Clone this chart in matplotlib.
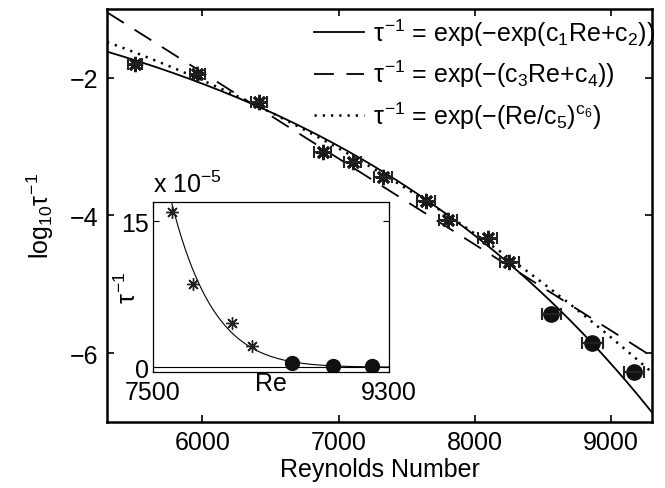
import numpy as np
import matplotlib
matplotlib.use('Agg')
import matplotlib.pyplot as plt

plt.rcParams['font.family'] = ['Liberation Sans', 'DejaVu Sans']
plt.rcParams['mathtext.fontset'] = 'custom'
plt.rcParams['mathtext.rm'] = 'Liberation Sans'
plt.rcParams['mathtext.it'] = 'Liberation Sans'
plt.rcParams['mathtext.sf'] = 'Liberation Sans'
plt.rcParams['font.size'] = 18

# main plot data: Reynolds number, log10 of decay rate, x error
re = [5506, 5962, 6418, 6882, 7103, 7324, 7640, 7802, 8096, 8251, 8560, 8862, 9170]
lograte = [-1.80, -1.94, -2.35, -3.08, -3.22, -3.44, -3.79, -4.07, -4.33, -4.68, -5.43, -5.85, -6.28]
re_err = [50, 55, 60, 60, 60, 65, 65, 65, 70, 70, 70, 75, 75]
n_star = 10  # first ones are asterisks, rest are filled circles

# inset data (tau^-1 in units of 1e-5)
re_in = [7645, 7805, 8103, 8255, 8560, 8870, 9170]
rate_in = [16.0, 8.6, 4.5, 2.2, 0.45, 0.15, 0.1]

# fit constants
c1, c2 = 3.6085e-4, -0.5961
c3, c4 = 2.878e-3, -12.84
c5, c6 = 3289.0, 2.570

fig = plt.figure(figsize=(6.65, 4.89), dpi=100)
ax = fig.add_axes([0.1609, 0.135, 0.8195, 0.8446])

x = np.linspace(5300, 9300, 400)
ln10 = np.log(10)
y1 = -np.exp(c1 * x + c2) / ln10
y2 = -(c3 * x + c4) / ln10
y3 = -(x / c5) ** c6 / ln10

ax.plot(x, y1, 'k-', lw=1.3, label=r'$\tau^{-1}$ = exp($-$exp(c$_1$Re+c$_2$))')
ax.plot(x, y2, 'k-', lw=1.3, dashes=(11, 7), label=r'$\tau^{-1}$ = exp($-$(c$_3$Re+c$_4$))')
ax.plot(x, y3, 'k-', lw=1.8, dashes=(0.9, 2.4), label=r'$\tau^{-1}$ = exp($-$(Re/c$_5$)$^{\mathrm{c}_6}$)')

ast = (8, 2, 0)
ax.plot(re[:n_star], lograte[:n_star], ls='none', marker=ast, ms=11, mew=2.0,
        color='#1a1a1a', zorder=3)
ax.plot(re[n_star:], lograte[n_star:], ls='none', marker='o', ms=11,
        color='#111111', zorder=3)
ax.errorbar(re, lograte, xerr=re_err, fmt='none', ecolor='#222222',
            elinewidth=1.5, capsize=4, capthick=1.5, zorder=4)

ax.set_xlim(5300, 9300)
ax.set_ylim(-7, -1)
ax.set_xticks([6000, 7000, 8000, 9000])
ax.set_yticks([-6, -4, -2])
ax.tick_params(direction='in', top=True, right=True, length=5, width=1.2, pad=6)
for s in ax.spines.values():
    s.set_linewidth(1.8)
ax.set_xlabel('Reynolds Number', labelpad=2)
ax.set_ylabel(r'log$_{10}\tau^{-1}$', labelpad=10)

leg = ax.legend(loc='upper right', bbox_to_anchor=(1.02, 1.0), frameon=False,
                handlelength=2.0, handletextpad=0.35, labelspacing=0.4,
                borderpad=0.3, borderaxespad=0.0)

# inset
ins = fig.add_axes([0.2301, 0.2372, 0.3549, 0.3476])
xi = np.linspace(7500, 9300, 400)
ins.plot(xi, np.exp(-np.exp(c1 * xi + c2)) * 1e5, 'k-', lw=0.8)
ins.axhline(0, color='k', lw=0.8)
ins.plot(re_in[:4], rate_in[:4], ls='none', marker=ast, ms=9, mew=1.0, color='#222222')
ins.plot(re_in[4:], rate_in[4:], ls='none', marker='o', ms=10, color='#111111')
ins.set_xlim(7500, 9300)
ins.set_ylim(-0.5, 17)
ins.set_xticks([7500, 9300])
ins.set_yticks([0, 15])
ins.tick_params(direction='in', right=True, top=True, length=4, width=0.8, pad=3)
ins.tick_params(axis='x', pad=6)
for s in ins.spines.values():
    s.set_linewidth(0.9)
ins.set_xlabel('Re', labelpad=-24)
ins.set_ylabel(r'$\tau^{-1}$')
ins.yaxis.set_label_coords(-0.05, 0.5)
ins.text(0.0, 1.03, r'x 10$^{-5}$', transform=ins.transAxes, ha='left', va='bottom')

fig.savefig('out.png', dpi=100)
